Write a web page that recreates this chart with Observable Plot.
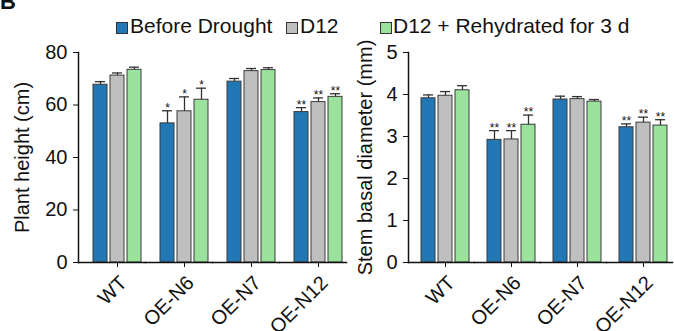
<!DOCTYPE html>
<html><head><meta charset="utf-8">
<script src="https://cdn.jsdelivr.net/npm/d3@7"></script>
<script src="https://cdn.jsdelivr.net/npm/@observablehq/plot@0.6"></script>
<style>
body{margin:0;background:#fff;font-family:"Liberation Sans",Arial,Helvetica,sans-serif;color:#111;}
#wrap{position:relative;width:674px;height:331px;overflow:hidden;background:#fff;}
#tag{position:absolute;left:0px;top:-9px;font-size:22px;line-height:22px;font-weight:bold;}
.sw{position:absolute;top:22px;width:12px;height:12px;box-sizing:border-box;border:1px solid #333;}
.lt{position:absolute;top:16px;font-size:21px;line-height:20px;white-space:nowrap;}
#left{position:absolute;left:0;top:40px;}
#right{position:absolute;left:355px;top:40px;}
svg{overflow:visible;}
</style></head><body>
<div id="wrap">
  <div id="tag">B</div>
  <div id="legend"></div>
  <div id="left"></div>
  <div id="right"></div>
</div>
<script>
// ---- data ----
const lines = ["WT", "OE-N6", "OE-N7", "OE-N12"];
const treatments = ["Before Drought", "D12", "D12 + Rehydrated for 3 d"];
const colors = ["#2277b5", "#bfbfbf", "#9be39d"];

// Plant height (cm)
const heightBefore = [67.7, 53.0, 68.9, 57.3];
const heightD12    = [71.2, 57.6, 72.9, 61.1];
const heightRehyd  = [73.4, 62.0, 73.3, 63.1];
const heightErrBefore = [1.2, 4.8, 1.2, 1.7];
const heightErrD12    = [1.0, 5.5, 1.0, 1.6];
const heightErrRehyd  = [1.0, 4.4, 0.9, 1.2];
const heightSig = ["", "*", "", "**"];
const heightTicks = [0, 20, 40, 60, 80];

// Stem basal diameter (mm)
const diamBefore = [3.91, 2.92, 3.88, 3.22];
const diamD12    = [3.97, 2.93, 3.89, 3.33];
const diamRehyd  = [4.10, 3.28, 3.83, 3.26];
const diamErrBefore = [0.08, 0.22, 0.08, 0.08];
const diamErrD12    = [0.10, 0.21, 0.06, 0.13];
const diamErrRehyd  = [0.11, 0.23, 0.05, 0.14];
const diamSig = ["", "**", "", "**"];
const diamTicks = [0, 1, 2, 3, 4, 5];

function buildRows(means, errs, sig) {
  const rows = [];
  lines.forEach((l, i) => {
    treatments.forEach((t, j) => {
      rows.push({line: l, treatment: t, mean: means[j][i], err: errs[j][i], sig: sig[i]});
    });
  });
  return rows;
}
const heightRows = buildRows([heightBefore, heightD12, heightRehyd], [heightErrBefore, heightErrD12, heightErrRehyd], heightSig);
const diamRows = buildRows([diamBefore, diamD12, diamRehyd], [diamErrBefore, diamErrD12, diamErrRehyd], diamSig);

// ---- legend ----
const legendPos = [[116, 130], [286, 300], [380, 393]];
const legend = document.getElementById("legend");
treatments.forEach((t, i) => {
  const sw = document.createElement("div");
  sw.className = "sw"; sw.style.left = legendPos[i][0] + "px"; sw.style.background = colors[i];
  const tx = document.createElement("div");
  tx.className = "lt"; tx.style.left = legendPos[i][1] + "px"; tx.textContent = t;
  legend.appendChild(sw); legend.appendChild(tx);
});

function panel({rows, domain, ticks, label, width, marginLeft, marginRight, align, labelOffset}) {
  const mid = treatments[1];
  const labelRows = lines.map(l => ({line: l, treatment: mid}));
  const top = d => d.mean + d.err;
  return Plot.plot({
    width, height: 291,
    marginTop: 12, marginBottom: 69, marginLeft, marginRight,
    style: {fontFamily: "Liberation Sans, Arial, Helvetica, sans-serif", fontSize: "20px", color: "#111", background: "transparent", overflow: "visible"},
    fx: {domain: lines, paddingInner: 0, paddingOuter: 0, axis: null, label: null},
    x: {domain: treatments, paddingInner: 0.15, paddingOuter: 0.5, align, axis: null},
    y: {domain, axis: null},
    color: {domain: treatments, range: colors},
    marks: [
      Plot.barY(rows, {fx: "line", x: "treatment", y: "mean", fill: "treatment", stroke: "#3a3a3a", strokeWidth: 1}),
      Plot.ruleX(rows, {fx: "line", x: "treatment", y1: "mean", y2: top, stroke: "#333", strokeWidth: 1.3}),
      Plot.tickY(rows, {fx: "line", x: "treatment", y: top, stroke: "#333", strokeWidth: 1.3, insetLeft: 2, insetRight: 2}),
      Plot.text(rows.filter(d => d.sig), {fx: "line", x: "treatment", y: top, text: "sig", fontSize: 12, lineAnchor: "bottom", dy: 1, fill: "#111"}),
      Plot.frame({anchor: "bottom", stroke: "#111", strokeWidth: 1.5}),
      Plot.frame({anchor: "left", stroke: "#111", strokeWidth: 1.5, facetAnchor: "left"}),
      Plot.axisY(ticks, {anchor: "left", tickSize: 5, tickPadding: 6, label, labelAnchor: "center", labelOffset, labelArrow: "none", fontSize: 20, stroke: "#111"}),
      Plot.axisX([mid], {anchor: "bottom", tickSize: 5, tickFormat: () => "", label: null, stroke: "#111"}),
      Plot.text(labelRows, {fx: "line", x: "treatment", text: "line", frameAnchor: "bottom", rotate: -45, textAnchor: "end", lineAnchor: "middle", dx: 6, dy: 17, fontSize: 20})
    ]
  });
}

document.getElementById("left").appendChild(panel({
  rows: heightRows, domain: [0, 80], ticks: heightTicks, label: "Plant height (cm)",
  width: 355, marginLeft: 77, marginRight: 8, align: 0.8, labelOffset: 64
}));
document.getElementById("right").appendChild(panel({
  rows: diamRows, domain: [0, 5], ticks: diamTicks, label: "Stem basal diameter (mm)",
  width: 319, marginLeft: 52, marginRight: 2, align: 0.76, labelOffset: 51
}));
</script>
</body></html>
